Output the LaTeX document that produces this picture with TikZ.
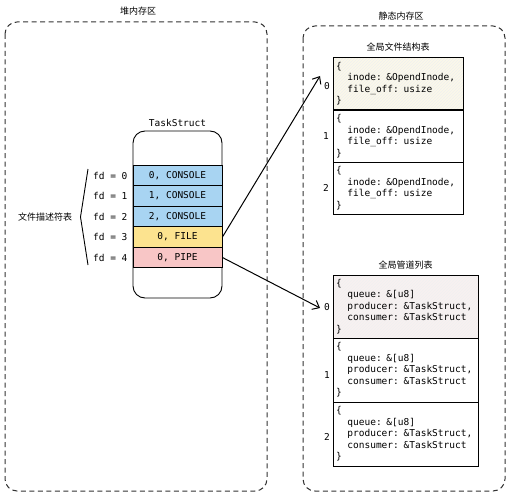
\documentclass[tikz,border=0pt]{standalone}
\usepackage{fontspec}
\setmonofont{DejaVu Sans Mono}
\newfontfamily\cjk{Noto Sans CJK SC}
\usepackage{tikz}
\usetikzlibrary{arrows.meta,patterns}

\definecolor{consoleblue}{HTML}{A8D4F2}
\definecolor{fileyellow}{HTML}{FCE38F}
\definecolor{pipepink}{HTML}{F8C6C6}
\definecolor{filecream}{HTML}{FBF8E9}
\definecolor{pipeblush}{HTML}{F8F1F1}

\newcommand{\codeind}{\hspace*{1.2em}}

\tikzset{
    region/.style={draw=black!80, line width=1pt, dash pattern=on 5pt off 3.5pt, rounded corners=12pt},
    zhlabel/.style={font=\cjk\fontsize{9}{11}\selectfont, inner sep=0pt},
    mono/.style={font=\ttfamily\fontsize{9.5}{11.5}\selectfont},
    slot/.style={mono, draw, line width=0.9pt, minimum width=89pt, minimum height=20.5pt, inner sep=0pt},
    entry/.style={mono, draw, line width=0.9pt, align=left, inner xsep=3pt, inner ysep=0pt},
    hatched/.style={preaction={fill=#1}, pattern=north east lines, pattern color=black!6},
    idx/.style={mono, inner sep=1pt},
    link/.style={line width=1pt, -{Straight Barb[length=6pt,width=10pt]}}
}

\begin{document}
\begin{tikzpicture}[x=1pt, y=-1pt]
    \useasboundingbox (0,0) rectangle (510,500);

    % memory regions
    \draw[region] (5,22) rectangle (267,491);
    \node[zhlabel] (heaplbl) at (138,11) {堆内存区};
    \draw[region] (303,26) rectangle (505,491);
    \node[zhlabel] (staticlbl) at (401,16) {静态内存区};

    % task struct
    \node[draw, line width=0.9pt, rounded corners=12pt, minimum width=89pt, minimum height=167pt] (task) at (177.5,214.5) {};
    \node[mono] (tasklbl) at (177.5,123) {TaskStruct};

    \node[slot, fill=consoleblue] (slot0) at (177.5,175.5) {0, CONSOLE};
    \node[slot, fill=consoleblue] (slot1) at (177.5,196) {1, CONSOLE};
    \node[slot, fill=consoleblue] (slot2) at (177.5,216.5) {2, CONSOLE};
    \node[slot, fill=fileyellow] (slot3) at (177.5,237) {0, FILE};
    \node[slot, fill=pipepink] (slot4) at (177.5,257.5) {0, PIPE};

    \node[mono, anchor=east] (fd0) at (131,175.5) {fd = 0};
    \node[mono, anchor=east] (fd1) at (131,196) {fd = 1};
    \node[mono, anchor=east] (fd2) at (131,216.5) {fd = 2};
    \node[mono, anchor=east] (fd3) at (131,237) {fd = 3};
    \node[mono, anchor=east] (fd4) at (131,257.5) {fd = 4};

    \draw[line width=0.9pt] (88,169) -- (80.5,217) -- (88,265);
    \node[zhlabel] (fdtable) at (45,217) {文件描述符表};

    % global file table
    \node[zhlabel] (filelbl) at (398,47) {全局文件结构表};
    \node[entry, hatched=filecream, text width=124pt, minimum height=52.5pt] (file0) at (398,83.5)
        {\{\\\codeind inode: \&OpendInode,\\\codeind file\_off: usize\\\}};
    \node[entry, text width=124pt, minimum height=52pt] (file1) at (398,136)
        {\{\\\codeind inode: \&OpendInode,\\\codeind file\_off: usize\\\}};
    \node[entry, text width=124pt, minimum height=52pt] (file2) at (398,188)
        {\{\\\codeind inode: \&OpendInode,\\\codeind file\_off: usize\\\}};
    \node[idx] (fi0) at (327,86) {0};
    \node[idx] (fi1) at (326,136) {1};
    \node[idx] (fi2) at (326,188) {2};

    % global pipe table
    \node[zhlabel] (pipelbl) at (405.5,265) {全局管道列表};
    \node[entry, hatched=pipeblush, text width=139pt, minimum height=63pt] (pipe0) at (405.5,306.5)
        {\{\\\codeind queue: \&[u8]\\\codeind producer: \&TaskStruct,\\\codeind consumer: \&TaskStruct\\\}};
    \node[entry, text width=139pt, minimum height=64pt] (pipe1) at (405.5,370)
        {\{\\\codeind queue: \&[u8]\\\codeind producer: \&TaskStruct,\\\codeind consumer: \&TaskStruct\\\}};
    \node[entry, text width=139pt, minimum height=64pt] (pipe2) at (405.5,434)
        {\{\\\codeind queue: \&[u8]\\\codeind producer: \&TaskStruct,\\\codeind consumer: \&TaskStruct\\\}};
    \node[idx] (pi0) at (327,307) {0};
    \node[idx] (pi1) at (327,375) {1};
    \node[idx] (pi2) at (327,437) {2};

    % pointers
    \coordinate (filetip) at (320,76);
    \coordinate (pipetip) at (320,308);
    \draw[link] (slot3.east) -- (filetip);
    \draw[link] (slot4.east) -- (pipetip);
\end{tikzpicture}
\end{document}
